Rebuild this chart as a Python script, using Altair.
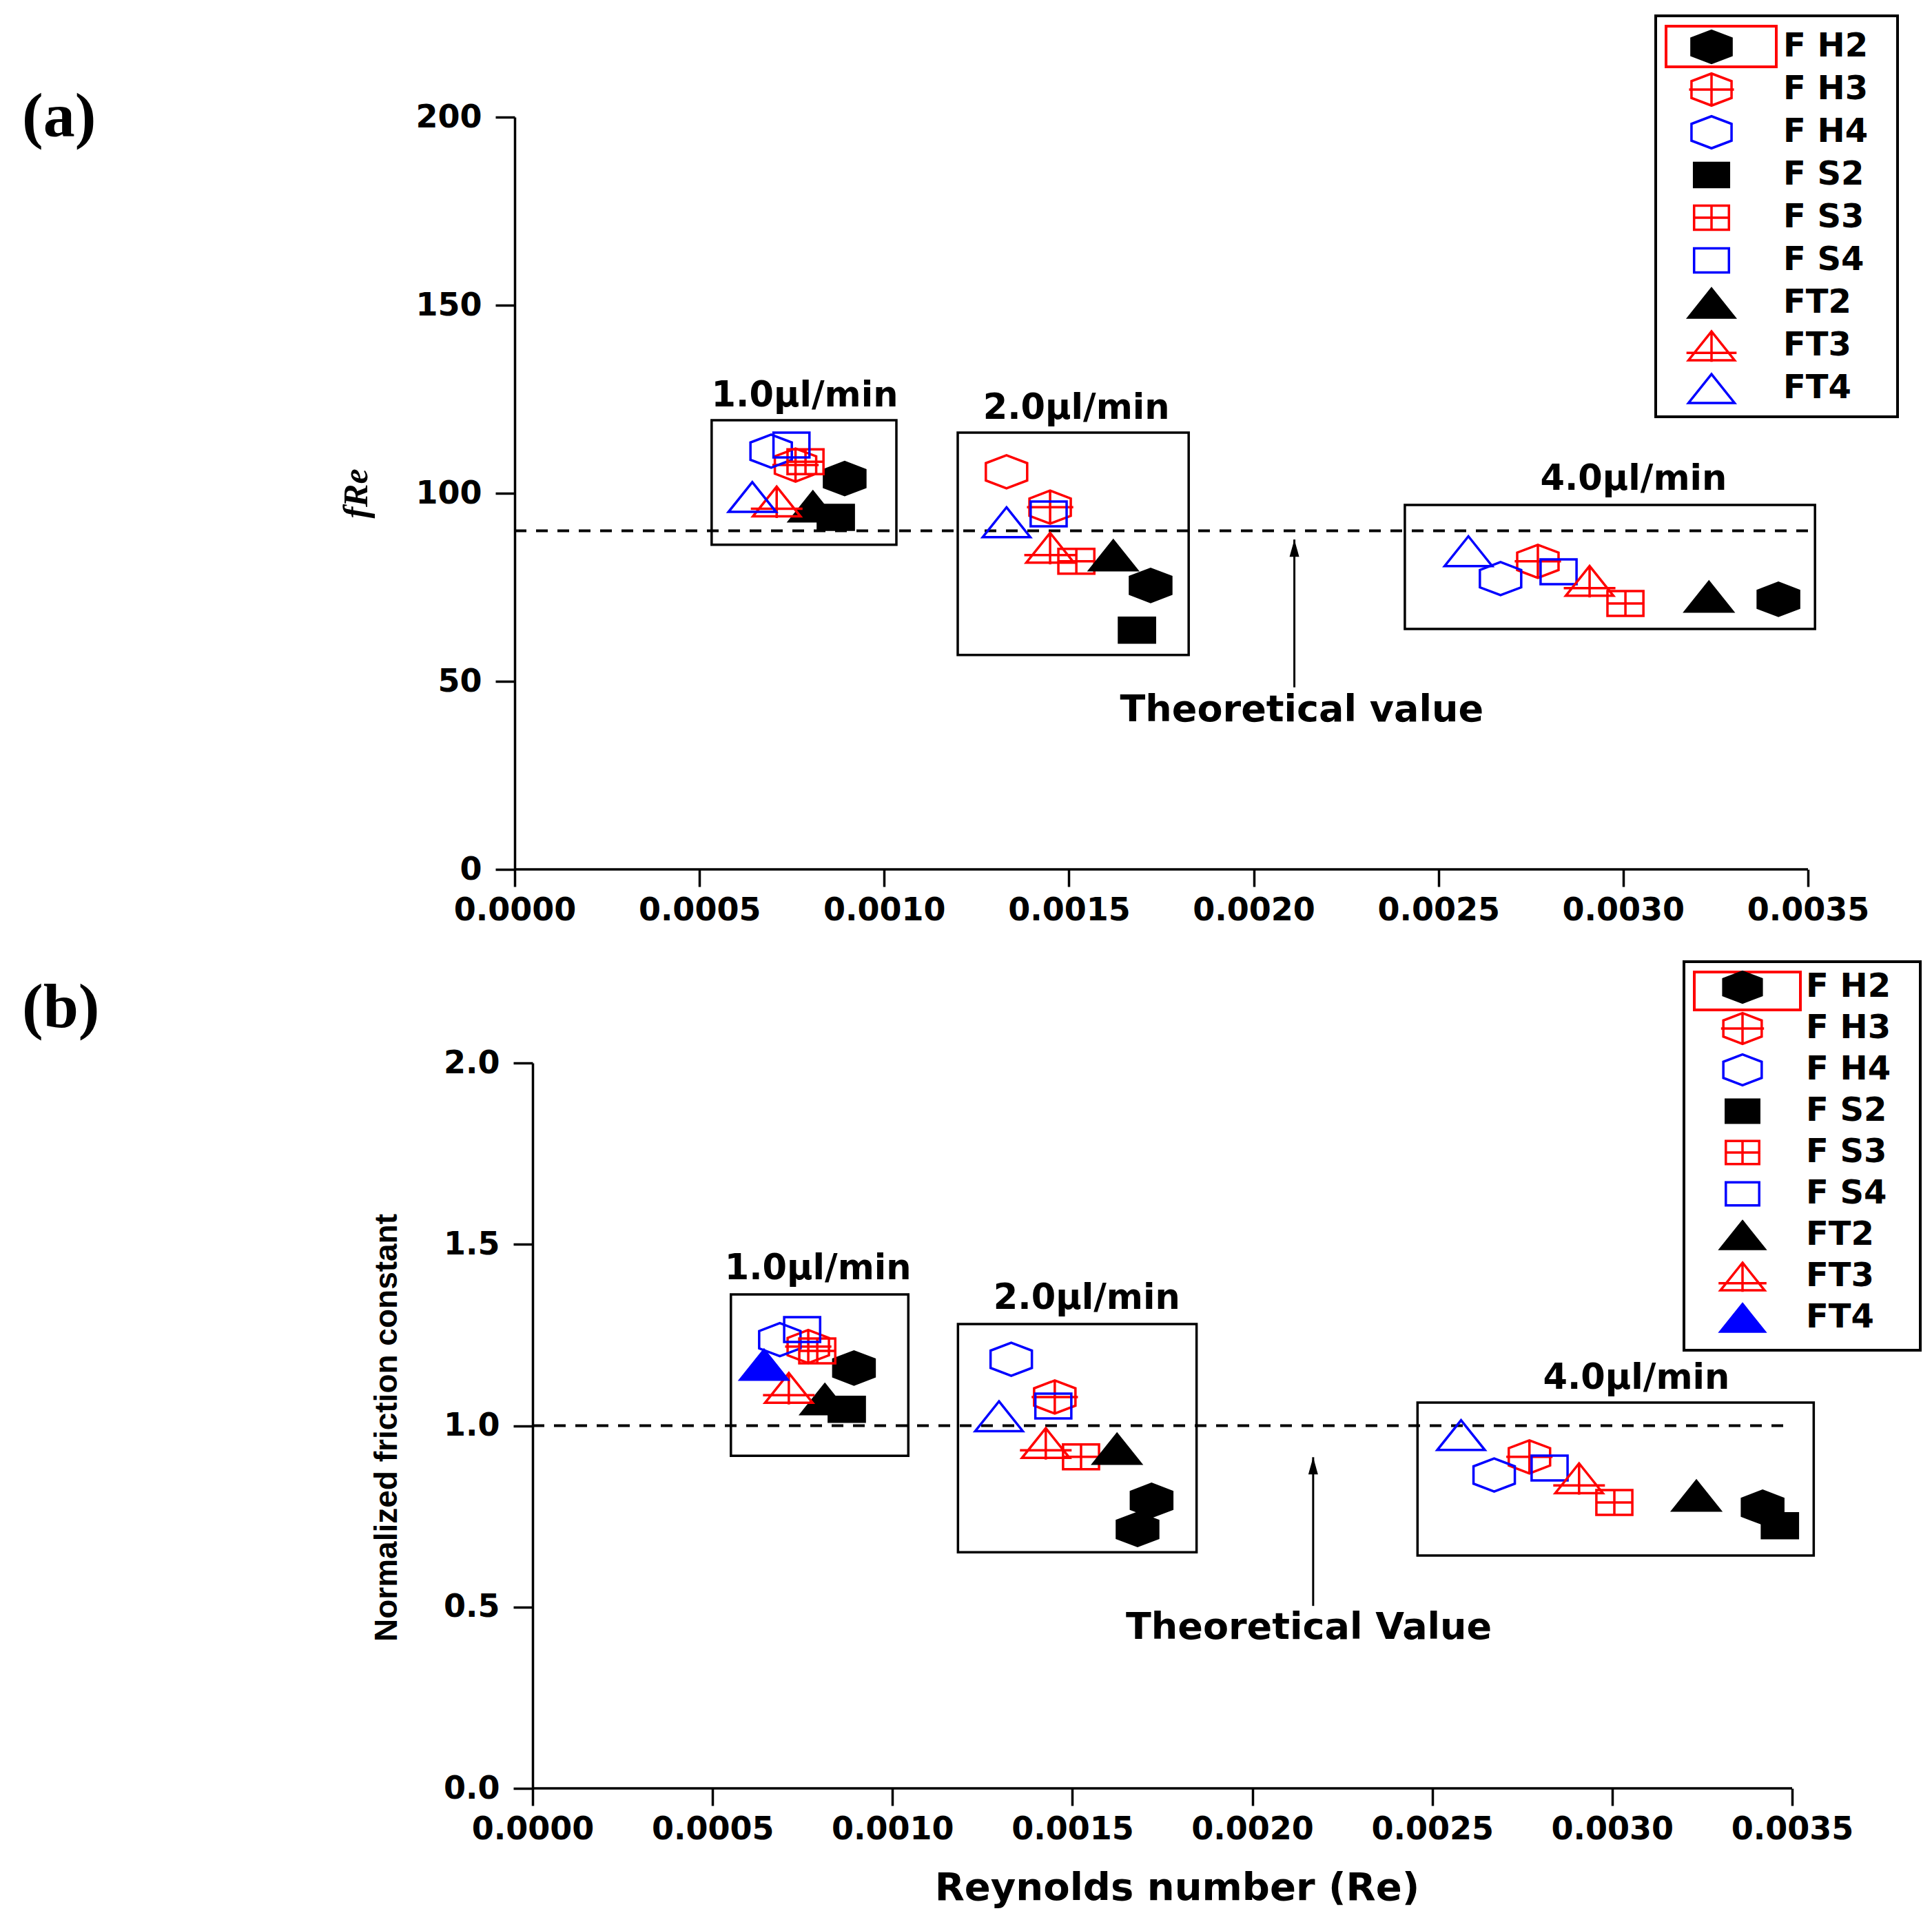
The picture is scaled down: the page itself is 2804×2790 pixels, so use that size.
import altair as alt
import pandas as pd

RED = "#ff0000"
BLUE = "#0000ff"

SERIES = ["F H2", "F H3", "F H4", "F S2", "F S3", "F S4", "FT2", "FT3", "FT4"]

# marker outlines, drawn a little wider than tall like the original figure
HEX = "M0,-0.8L1,-0.42L1,0.42L0,0.8L-1,0.42L-1,-0.42Z"
HEX_X = HEX + "M0,-0.8L0,0.8M-1.12,0L1.12,0"
SQ = "M-0.87,-0.6L0.87,-0.6L0.87,0.6L-0.87,0.6Z"
SQ_X = SQ + "M0,-0.6L0,0.6M-0.87,0L0.87,0"
TRI = "M0,-0.72L1.15,0.72L-1.15,0.72Z"
TRI_X = TRI + "M0,-0.72L0,0.8M-1.25,0.35L1.25,0.35"
ARROW = "M0,0L0.7,2.5L-0.7,2.5Z"

BASE_SHAPES = [HEX, HEX_X, HEX, SQ, SQ_X, SQ, TRI, TRI_X, TRI]
STROKES = ["black", RED, BLUE, "black", RED, BLUE, "black", RED, BLUE]
FILLS_A = ["black", "transparent", "transparent", "black", "transparent",
           "transparent", "black", "transparent", "transparent"]
FILLS_B = ["black", "transparent", "transparent", "black", "transparent",
           "transparent", "black", "transparent", BLUE]

RE_TICKS = [0, 0.0005, 0.001, 0.0015, 0.002, 0.0025, 0.003, 0.0035]

# ---- panel (a): fRe ----
a_series = ["F H2", "F H2", "F H2", "F H3", "F H3", "F H3", "F H4", "F H4", "F H4",
            "F S2", "F S2", "F S3", "F S3", "F S3", "F S4", "F S4", "F S4",
            "FT2", "FT2", "FT2", "FT3", "FT3", "FT3", "FT4", "FT4", "FT4"]
a_re = [0.000893, 0.001721, 0.003420, 0.000760, 0.001449, 0.002769,
        0.000694, 0.001331, 0.002668, 0.000869, 0.001684,
        0.000787, 0.001520, 0.003006, 0.000749, 0.001445, 0.002825,
        0.000807, 0.001620, 0.003232, 0.000709, 0.001449, 0.002909,
        0.000643, 0.001331, 0.002581]
a_fre = [103.9, 75.5, 71.8, 107.5, 96.3, 81.9,
         111.2, 105.7, 77.3, 93.6, 63.6,
         108.4, 81.9, 70.7, 112.8, 94.5, 79.1,
         96.5, 83.5, 72.5, 97.8, 85.5, 76.7,
         99.0, 92.3, 84.6]
a_style = ["", "", "", "", "", "", "", "red", "", "", "",
           "", "", "", "", "", "", "", "", "", "", "", "", "", "", ""]

a_flow_labels = ["1.0μl/min", "2.0μl/min", "4.0μl/min"]
a_label_re = [0.000785, 0.00152, 0.003028]
a_label_y = [125.8, 122.5, 103.7]
a_box_re0 = [0.000533, 0.001199, 0.002409]
a_box_re1 = [0.001033, 0.001824, 0.003519]
a_box_y0 = [86.3, 57.0, 63.9]
a_box_y1 = [119.4, 116.1, 96.9]
a_theory = 90
a_arrow = [0.00211, 48.4, 87.7]
a_note = ["Theoretical value", 0.00213, 42.3]

# ---- panel (b): normalized friction constant ----
b_series = ["F H2", "F H2", "F H2", "F H3", "F H3", "F H3", "F H4", "F H4", "F H4",
            "F S2", "F S2", "F S2", "F S3", "F S3", "F S3", "F S4", "F S4", "F S4",
            "FT2", "FT2", "FT2", "FT3", "FT3", "FT3", "FT4", "FT4", "FT4"]
b_re = [0.000893, 0.001720, 0.003418, 0.000766, 0.001451, 0.002770,
        0.000687, 0.001330, 0.002672, 0.000873, 0.001681, 0.003466,
        0.000791, 0.001524, 0.003006, 0.000749, 0.001447, 0.002826,
        0.000812, 0.001624, 0.003234, 0.000712, 0.001426, 0.002908,
        0.000643, 0.001296, 0.002580]
b_norm = [1.159, 0.794, 0.775, 1.218, 1.079, 0.914,
          1.237, 1.183, 0.864, 1.045, 0.714, 0.724,
          1.206, 0.914, 0.788, 1.265, 1.054, 0.883,
          1.073, 0.936, 0.807, 1.104, 0.952, 0.855,
          1.168, 1.026, 0.974]
b_style = ["", "", "", "", "", "", "", "", "", "", "hex", "",
           "", "", "", "", "", "", "", "", "", "", "", "", "", "hollow", "hollow"]

b_flow_labels = ["1.0μl/min", "2.0μl/min", "4.0μl/min"]
b_label_re = [0.000793, 0.00154, 0.003067]
b_label_y = [1.432, 1.350, 1.130]
b_box_re0 = [0.000551, 0.001182, 0.002459]
b_box_re1 = [0.001044, 0.001845, 0.00356]
b_box_y0 = [0.917, 0.651, 0.642]
b_box_y1 = [1.362, 1.280, 1.0636]
b_theory = 1.0
b_arrow = [0.002169, 0.503, 0.913]
b_note = ["Theoretical Value", 0.002157, 0.443]

TICK_FONT = "DejaVu Sans"


def even_rows(path, ext=0.8):
    # invisible move-to points give every legend row the same height
    return path + "M0,-%sM0,%s" % (ext, ext)


def frame(box, color, width):
    return alt.Chart(pd.DataFrame({"k": [0]})).mark_rect(
        fillOpacity=0, stroke=color, strokeWidth=width).encode(
        x=alt.value(box[0]), x2=alt.value(box[1]), y=alt.value(box[2]), y2=alt.value(box[3]))


def build_panel(series, re, yv, style, fills, flow_labels, label_re, label_y,
                box_re0, box_re1, box_y0, box_y1, theory, arrow, note,
                y_domain, y_values, y_format, y_axis_title, x_min, y_offset,
                width, height, x_axis_title, legend_xy, legend_sym, sym_off, lab_off,
                tag, tag_y, highlight, legend_box):
    x_axis = alt.Axis(values=RE_TICKS, format=".4f", grid=False, labelFlush=False,
                      labelOverlap=False, domain=False,
                      tickColor="black", tickWidth=3.5, tickSize=25, labelPadding=12,
                      labelFont=TICK_FONT, labelFontSize=46, labelFontWeight="bold",
                      labelColor="black", **x_axis_title)
    y_axis = alt.Axis(values=y_values, format=y_format, grid=False, offset=y_offset,
                      domainColor="black", domainWidth=3.5, tickColor="black",
                      tickWidth=3.5, tickSize=28, labelPadding=20,
                      labelFont=TICK_FONT, labelFontSize=46, labelFontWeight="bold",
                      labelColor="black", **y_axis_title)
    x_enc = alt.X("x:Q", scale=alt.Scale(domain=[x_min, 0.0035], nice=False, zero=False),
                  axis=x_axis)
    y_enc = alt.Y("y:Q", scale=alt.Scale(domain=y_domain, nice=False), axis=y_axis)

    # x axis line drawn from Re = 0, where the y axis sits
    baseline = alt.Chart(pd.DataFrame({"x": [0], "x2": [0.0035], "y": [y_domain[0]]})
                         ).mark_rule(strokeWidth=3.5, color="black").encode(
        x=x_enc, x2="x2:Q", y=y_enc)

    boxes = alt.Chart(pd.DataFrame({"x": box_re0, "x2": box_re1, "y": box_y0, "y2": box_y1})
                      ).mark_rect(fillOpacity=0, stroke="black", strokeWidth=3.5).encode(
        x=x_enc, x2="x2:Q", y=y_enc, y2="y2:Q")

    dashed = alt.Chart(pd.DataFrame({"x": [0], "x2": [0.0035], "y": [theory]})
                       ).mark_rule(strokeDash=[17, 14], strokeWidth=4, color="black").encode(
        x=x_enc, x2="x2:Q", y=y_enc)

    shaft = alt.Chart(pd.DataFrame({"x": [arrow[0]], "y": [arrow[1]], "y2": [arrow[2]]})
                      ).mark_rule(strokeWidth=3, color="black").encode(
        x=x_enc, y=y_enc, y2="y2:Q")
    head = alt.Chart(pd.DataFrame({"x": [arrow[0]], "y": [arrow[2]]})).mark_point(
        shape=ARROW, size=400, filled=True, color="black", opacity=1).encode(x=x_enc, y=y_enc)

    labels = alt.Chart(pd.DataFrame({"x": label_re, "y": label_y, "t": flow_labels})
                       ).mark_text(font=TICK_FONT, fontSize=51, fontWeight="bold",
                                   color="black", baseline="middle").encode(
        x=x_enc, y=y_enc, text="t:N")

    note_text = alt.Chart(pd.DataFrame({"x": [note[1]], "y": [note[2]], "t": [note[0]]})
                          ).mark_text(font=TICK_FONT, fontSize=54, fontWeight="bold",
                                      color="black", baseline="middle").encode(
        x=x_enc, y=y_enc, text="t:N")

    legend = alt.Legend(title=None, orient="none", legendX=legend_xy[0], legendY=legend_xy[1],
                        padding=10, rowPadding=0, strokeColor="transparent",
                        symbolOffset=sym_off, labelOffset=lab_off, symbolSize=legend_sym,
                        symbolStrokeWidth=3.5, labelFont=TICK_FONT, labelFontSize=48,
                        labelFontWeight="bold", labelColor="black", labelLimit=400)

    shapes = [even_rows(p) for p in BASE_SHAPES]
    pts = pd.DataFrame({"series": series, "x": re, "y": yv, "style": style})
    points = alt.Chart(pts).mark_point(size=3600, strokeWidth=3.5, opacity=1,
                                       fillOpacity=1, strokeOpacity=1).encode(
        x=x_enc, y=y_enc,
        shape=alt.condition("datum.style == 'hex'", alt.value(HEX),
                            alt.Shape("series:N", scale=alt.Scale(domain=SERIES, range=shapes),
                                      legend=legend)),
        fill=alt.condition("datum.style == 'hollow'", alt.value("transparent"),
                           alt.Fill("series:N", scale=alt.Scale(domain=SERIES, range=fills))),
        stroke=alt.condition("datum.style == 'red'", alt.value(RED),
                             alt.Stroke("series:N", scale=alt.Scale(domain=SERIES, range=STROKES))),
    )

    tag_mark = alt.Chart(pd.DataFrame({"t": [tag]})).mark_text(
        font="Liberation Serif", fontSize=92, fontWeight="bold", align="left",
        baseline="middle", color="black").encode(
        text="t:N", x=alt.value(-715), y=alt.value(tag_y))

    return alt.layer(baseline, boxes, dashed, shaft, head, labels, note_text, points,
                     frame(highlight, RED, 4), frame(legend_box, "black", 4), tag_mark
                     ).properties(width=width, height=height)


panel_a = build_panel(
    a_series, a_re, a_fre, a_style, FILLS_A, a_flow_labels, a_label_re, a_label_y,
    a_box_re0, a_box_re1, a_box_y0, a_box_y1, a_theory, a_arrow, a_note,
    [0, 200], [0, 50, 100, 150, 200], "d",
    dict(title="fRe", titleFont="Liberation Serif", titleFontStyle="italic",
         titleFontWeight="bold", titleFontSize=50, titleColor="black",
         titleX=-230, titleY=546, titleAngle=270, titleAlign="center",
         titleBaseline="middle"),
    0, 0, 1877, 1092, dict(title=None), (1656, -143), 3380, 40, 73, "(a)", 0,
    (1671, 1831, -132, -73), (1656, 2007, -147, 435))

panel_b = build_panel(
    b_series, b_re, b_norm, b_style, FILLS_B, b_flow_labels, b_label_re, b_label_y,
    b_box_re0, b_box_re1, b_box_y0, b_box_y1, b_theory, b_arrow, b_note,
    [0, 2], [0, 0.5, 1.0, 1.5, 2.0], ".1f",
    dict(title="Normalized friction constant",
         titleFont="Liberation Sans Narrow, Liberation Sans", titleFontWeight="bold",
         titleFontSize=46, titleColor="black", titleX=-212, titleY=529, titleAngle=270,
         titleAlign="center", titleBaseline="middle"),
    -0.0000498, -26, 1854, 1053,
    dict(title="Reynolds number (Re)", titleFont=TICK_FONT, titleFontWeight="bold",
         titleFontSize=56, titleColor="black", titleX=961, titleY=144,
         titleAlign="center", titleBaseline="middle"),
    (1690, -150), 3100, 52, 62, "(b)", -80,
    (1712, 1866, -132, -77), (1697, 2040, -147, 417))

chart = alt.vconcat(panel_a, panel_b, spacing=281, bounds="flush").resolve_scale(
    x="independent", y="independent", shape="independent", fill="independent",
    stroke="independent").resolve_legend(
    shape="independent", fill="independent", stroke="independent").properties(
    padding={"left": 24, "top": 13, "right": 5, "bottom": 5}
).configure(background="white").configure_view(stroke=None)

chart.save("out.html", embed_options={"renderer": "svg", "actions": False})
